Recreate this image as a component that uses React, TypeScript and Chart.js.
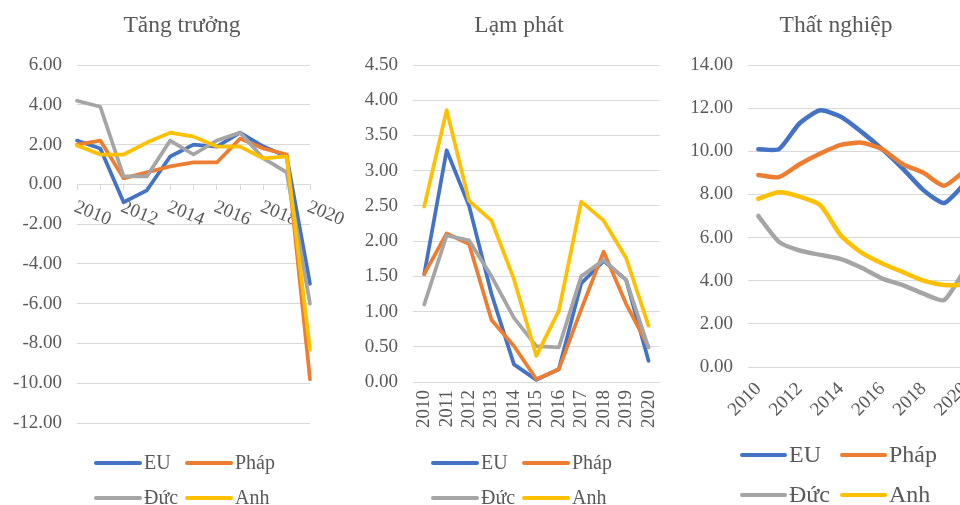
import React, { useEffect, useRef } from 'react';
import { Chart, registerables } from 'chart.js';

Chart.register(...registerables);

// ---- data ----
const years = ['2010', '2011', '2012', '2013', '2014', '2015', '2016', '2017', '2018', '2019', '2020'];
const seriesNames = ['EU', 'Pháp', 'Đức', 'Anh'];
const seriesColors = ['#4472C4', '#ED7D31', '#A5A5A5', '#FFC000'];

// Tăng trưởng (%)
const growthEU = [2.2, 1.8, -0.9, -0.3, 1.4, 2.0, 1.9, 2.6, 1.9, 1.4, -5.0];
const growthFR = [2.0, 2.2, 0.3, 0.6, 0.9, 1.1, 1.1, 2.3, 1.8, 1.5, -9.8];
const growthDE = [4.2, 3.9, 0.4, 0.4, 2.2, 1.5, 2.2, 2.6, 1.3, 0.6, -6.0];
const growthUK = [1.95, 1.5, 1.5, 2.1, 2.6, 2.4, 1.9, 1.9, 1.3, 1.4, -8.3];

// Lạm phát (%)
const inflationEU = [1.53, 3.29, 2.5, 1.25, 0.25, 0.03, 0.18, 1.4, 1.72, 1.45, 0.3];
const inflationFR = [1.53, 2.11, 1.96, 0.88, 0.51, 0.04, 0.18, 1.03, 1.85, 1.11, 0.5];
const inflationDE = [1.1, 2.08, 2.01, 1.5, 0.91, 0.51, 0.49, 1.5, 1.73, 1.45, 0.49];
const inflationUK = [2.49, 3.86, 2.57, 2.29, 1.46, 0.37, 1.01, 2.56, 2.29, 1.76, 0.8];

// Thất nghiệp (%)
const unemploymentEU = [10.1, 10.1, 11.3, 11.9, 11.6, 10.9, 10.1, 9.2, 8.2, 7.6, 8.5];
const unemploymentFR = [8.9, 8.8, 9.4, 9.9, 10.3, 10.4, 10.1, 9.4, 9.0, 8.4, 9.1];
const unemploymentDE = [7.0, 5.8, 5.4, 5.2, 5.0, 4.6, 4.1, 3.8, 3.4, 3.1, 4.5];
const unemploymentUK = [7.8, 8.1, 7.9, 7.5, 6.1, 5.3, 4.8, 4.4, 4.0, 3.8, 3.8];

const FONT = '"Liberation Serif", "Times New Roman", serif';
const TEXT = '#595959';
const GRID = '#D9D9D9';
const TICK_SIZE = 19;

type AxisMode = 'zero' | 'vertical' | 'diagonal';

type PanelCfg = {
  title: string;
  titleCenter: number;
  titleBaseline: number;
  titleSize: number;
  left: number;
  width: number;
  pad: { left: number; right: number; top: number; bottom: number };
  yAxisWidth: number;
  yMin: number;
  yMax: number;
  yStep: number;
  series: number[][];
  lineWidth: number;
  tension: number;
  axisMode: AxisMode;
  xAxisHeight: number;
  xTickPadding: number;
  legendX: number;
  legendRows: number[];
  legendGap: number;
  legendLine: number;
  legendFont: number;
};

const panels: PanelCfg[] = [
  {
    title: 'Tăng trưởng',
    titleCenter: 182,
    titleBaseline: 31.5,
    titleSize: 23.5,
    left: 0,
    width: 350,
    pad: { left: 7, right: 40, top: 65, bottom: 82 },
    yAxisWidth: 70,
    yMin: -12,
    yMax: 6,
    yStep: 2,
    series: [growthEU, growthFR, growthDE, growthUK],
    lineWidth: 3.75,
    tension: 0,
    axisMode: 'zero',
    xAxisHeight: 0,
    xTickPadding: 0,
    legendX: 96,
    legendRows: [463, 498],
    legendGap: 91,
    legendLine: 44,
    legendFont: 20,
  },
  {
    title: 'Lạm phát',
    titleCenter: 519,
    titleBaseline: 31.5,
    titleSize: 23.5,
    left: 340,
    width: 340,
    pad: { left: 7, right: 15, top: 65, bottom: 73 },
    yAxisWidth: 66,
    yMin: 0,
    yMax: 4.5,
    yStep: 0.5,
    series: [inflationEU, inflationFR, inflationDE, inflationUK],
    lineWidth: 3.75,
    tension: 0,
    axisMode: 'vertical',
    xAxisHeight: 50,
    xTickPadding: 8,
    legendX: 433,
    legendRows: [463, 498],
    legendGap: 91,
    legendLine: 44,
    legendFont: 20,
  },
  {
    title: 'Thất nghiệp',
    titleCenter: 836,
    titleBaseline: 32,
    titleSize: 23.5,
    left: 670,
    width: 330,
    pad: { left: 8, right: 25, top: 65, bottom: 78 },
    yAxisWidth: 70,
    yMin: 0,
    yMax: 14,
    yStep: 2,
    series: [unemploymentEU, unemploymentFR, unemploymentDE, unemploymentUK],
    lineWidth: 4.5,
    tension: 0.2,
    axisMode: 'diagonal',
    xAxisHeight: 60,
    xTickPadding: 11,
    legendX: 742,
    legendRows: [455, 495],
    legendGap: 100,
    legendLine: 43,
    legendFont: 24,
  },
];

// Title, 2x2 legend and (for the growth panel) slanted year labels on the zero line.
const panelText = {
  id: 'panelText',
  beforeDatasetsDraw(chart: any, _args: any, opts: any) {
    if (!opts.slanted) return;
    const ctx = chart.ctx;
    const xs = chart.scales.x;
    const ys = chart.scales.y;
    const y0 = ys.getPixelForValue(0);
    ctx.save();
    ctx.font = `${TICK_SIZE}px ${FONT}`;
    ctx.fillStyle = TEXT;
    ctx.textAlign = 'left';
    ctx.textBaseline = 'middle';
    years.forEach((label, i) => {
      if (i % 2) return;
      const x = xs.getPixelForValue(i);
      ctx.save();
      ctx.translate(x - 2, y0 + 22);
      ctx.rotate((22 * Math.PI) / 180);
      ctx.fillText(label, 0, 0);
      ctx.restore();
    });
    ctx.restore();
  },
  afterDraw(chart: any, _args: any, opts: any) {
    const ctx = chart.ctx;
    const off = opts.left;
    ctx.save();
    ctx.fillStyle = TEXT;
    ctx.font = `${opts.titleSize}px ${FONT}`;
    ctx.textAlign = 'center';
    ctx.textBaseline = 'alphabetic';
    ctx.fillText(opts.title, opts.titleCenter - off, opts.titleBaseline);

    ctx.font = `${opts.legendFont}px ${FONT}`;
    ctx.textAlign = 'left';
    ctx.textBaseline = 'middle';
    ctx.lineCap = 'round';
    ctx.lineWidth = 4;
    seriesNames.forEach((name, i) => {
      const col = i % 2;
      const row = Math.floor(i / 2);
      const x0 = opts.legendX - off + col * opts.legendGap;
      const y = opts.legendRows[row];
      ctx.strokeStyle = seriesColors[i];
      ctx.beginPath();
      ctx.moveTo(x0, y);
      ctx.lineTo(x0 + opts.legendLine, y);
      ctx.stroke();
      ctx.fillText(name, x0 + opts.legendLine + 4, y + 1);
    });
    ctx.restore();
  },
};

function buildXScale(cfg: PanelCfg): any {
  const base: any = {
    type: 'category',
    border: { display: true, color: GRID, width: 1 },
  };
  if (cfg.axisMode === 'zero') {
    return {
      ...base,
      position: { y: 0 },
      offset: false,
      grid: { drawOnChartArea: false, drawTicks: true, tickLength: 5, color: GRID },
      ticks: { display: false },
    };
  }
  const rot = cfg.axisMode === 'vertical' ? 90 : 45;
  return {
    ...base,
    position: 'bottom',
    offset: true,
    grid: { display: false, drawTicks: false },
    ticks: {
      autoSkip: false,
      minRotation: rot,
      maxRotation: rot,
      padding: cfg.xTickPadding,
      color: TEXT,
      font: { family: FONT, size: TICK_SIZE },
      callback: (_v: any, i: number) =>
        cfg.axisMode === 'diagonal' && i % 2 ? '' : years[i],
    },
    afterFit: (scale: any) => {
      scale.height = cfg.xAxisHeight;
    },
  };
}

function Panel({ cfg }: { cfg: PanelCfg }) {
  const ref = useRef<HTMLCanvasElement | null>(null);

  useEffect(() => {
    if (!ref.current) return;
    const datasets = cfg.series.map((values, i) => ({
      label: seriesNames[i],
      data: values,
      borderColor: seriesColors[i],
      backgroundColor: seriesColors[i],
      borderWidth: cfg.lineWidth,
      borderJoinStyle: 'round' as const,
      borderCapStyle: 'round' as const,
      pointRadius: 0,
      pointHoverRadius: 0,
      tension: cfg.tension,
      fill: false,
      order: seriesNames.length - i,
    }));

    const chart = new Chart(ref.current, {
      type: 'line',
      data: { labels: years, datasets },
      options: {
        responsive: false,
        animation: false,
        devicePixelRatio: 1,
        layout: { padding: cfg.pad },
        events: [],
        plugins: {
          legend: { display: false },
          title: { display: false },
          tooltip: { enabled: false },
          panelText: {
            slanted: cfg.axisMode === 'zero',
            left: cfg.left,
            title: cfg.title,
            titleCenter: cfg.titleCenter,
            titleBaseline: cfg.titleBaseline,
            titleSize: cfg.titleSize,
            legendX: cfg.legendX,
            legendRows: cfg.legendRows,
            legendGap: cfg.legendGap,
            legendLine: cfg.legendLine,
            legendFont: cfg.legendFont,
          },
        } as any,
        scales: {
          x: buildXScale(cfg),
          y: {
            type: 'linear',
            min: cfg.yMin,
            max: cfg.yMax,
            border: { display: false },
            grid: { color: GRID, lineWidth: 1, drawTicks: false },
            ticks: {
              stepSize: cfg.yStep,
              padding: 15,
              color: TEXT,
              font: { family: FONT, size: TICK_SIZE },
              callback: (v: any) => Number(v).toFixed(2),
            },
            afterFit: (scale: any) => {
              scale.width = cfg.yAxisWidth;
            },
          },
        },
      },
      plugins: [panelText as any],
    });
    return () => chart.destroy();
  }, [cfg]);

  return (
    <canvas
      ref={ref}
      width={cfg.width}
      height={505}
      style={{ position: 'absolute', left: cfg.left, top: 0, width: cfg.width, height: 505 }}
    />
  );
}

export default function App() {
  return (
    <div
      style={{
        position: 'fixed',
        left: 0,
        top: 0,
        width: 960,
        height: 505,
        overflow: 'hidden',
        background: '#ffffff',
      }}
    >
      {panels.map((p) => (
        <Panel key={p.title} cfg={p} />
      ))}
    </div>
  );
}
